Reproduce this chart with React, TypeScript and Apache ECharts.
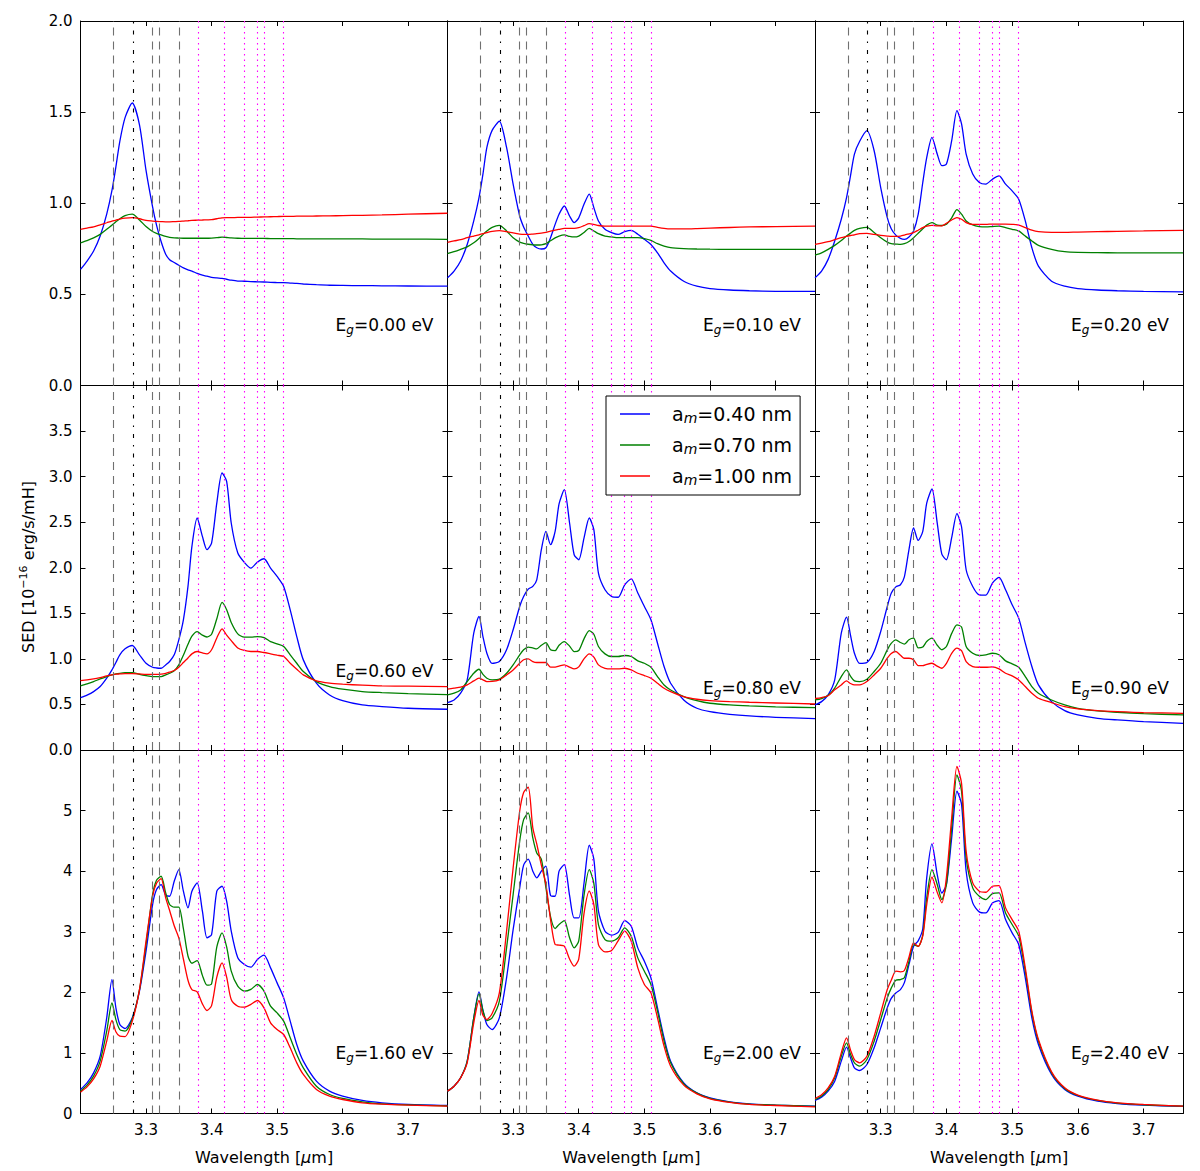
import React, { useEffect, useRef } from "react";
import * as echarts from "echarts";

// wavelength grid (micron)
const WL = [3.20, 3.21, 3.22, 3.23, 3.24, 3.248, 3.254, 3.26, 3.268, 3.279, 3.29, 3.30, 3.31, 3.316, 3.323, 3.33, 3.336, 3.343, 3.35, 3.357, 3.364, 3.37, 3.378, 3.386, 3.393, 3.40, 3.408, 3.416, 3.423, 3.43, 3.44, 3.45, 3.46, 3.47, 3.48, 3.49, 3.50, 3.51, 3.52, 3.53, 3.54, 3.56, 3.58, 3.60, 3.63, 3.66, 3.70, 3.76];

const SIZE_NAMES = ["a_m=0.40 nm", "a_m=0.70 nm", "a_m=1.00 nm"];
const SERIES_COLORS = ["#0000ff", "#008000", "#ff0000"];
const EG_LABELS = ["0.00", "0.10", "0.20", "0.60", "0.80", "0.90", "1.60", "2.00", "2.40"];

// Eg = 0.00 eV
const EG000_040 = [0.637,0.683,0.738,0.82,0.94, 1.07,1.20,1.34,1.47,1.55, 1.43,1.18,0.98,0.88,0.79, 0.72,0.69,0.675,0.66,0.645, 0.635,0.628,0.615,0.605,0.60, 0.593,0.59,0.588,0.583,0.578, 0.573,0.572,0.570,0.569,0.568, 0.566,0.565,0.564,0.562,0.560, 0.557,0.553,0.550,0.549,0.548, 0.547,0.546,0.545];
const EG000_070 = [0.783,0.795,0.810,0.829,0.857, 0.880,0.898,0.915,0.932,0.940, 0.908,0.872,0.845,0.835,0.826, 0.818,0.813,0.810,0.809,0.808, 0.808,0.808,0.808,0.808,0.808, 0.809,0.811,0.814,0.812,0.810, 0.808,0.807,0.807,0.807,0.807, 0.806,0.806,0.806,0.806,0.805, 0.805,0.805,0.805,0.805,0.804, 0.803,0.803,0.802];
const EG000_100 = [0.857,0.864,0.871,0.882,0.893, 0.902,0.907,0.913,0.918,0.921, 0.915,0.906,0.902,0.900,0.899, 0.898,0.898,0.899,0.900,0.902, 0.904,0.906,0.907,0.908,0.909, 0.910,0.915,0.920,0.921,0.921, 0.922,0.922,0.923,0.924,0.925, 0.926,0.927,0.928,0.928,0.929, 0.929,0.930,0.931,0.932,0.934, 0.936,0.940,0.945];
// Eg = 0.10 eV
const EG010_040 = [0.591,0.628,0.683,0.774,0.903, 1.031,1.16,1.306,1.40,1.45, 1.306,1.105,0.930,0.87,0.82, 0.774,0.756,0.749,0.756,0.811, 0.884,0.94,0.985,0.930,0.894, 0.92,0.994,1.050,0.976,0.903, 0.857,0.839,0.829,0.844,0.851, 0.830,0.802,0.774,0.728,0.673, 0.628,0.572,0.545,0.532,0.524, 0.520,0.517,0.516];
const EG010_070 = [0.723,0.734,0.747,0.761,0.783, 0.807,0.828,0.848,0.868,0.879, 0.848,0.811,0.787,0.780,0.775, 0.772,0.771,0.772,0.778,0.794, 0.810,0.820,0.826,0.818,0.815, 0.820,0.840,0.862,0.848,0.833, 0.820,0.815,0.811,0.811,0.811, 0.811,0.806,0.796,0.778,0.765, 0.756,0.751,0.749,0.748,0.747, 0.747,0.747,0.747];
const EG010_100 = [0.785,0.793,0.800,0.811,0.820, 0.827,0.833,0.839,0.846,0.850, 0.844,0.837,0.831,0.829,0.829, 0.831,0.833,0.836,0.840,0.847, 0.853,0.857,0.862,0.862,0.862, 0.866,0.877,0.888,0.884,0.878, 0.875,0.875,0.875,0.875,0.875, 0.875,0.875,0.875,0.868,0.862, 0.859,0.859,0.861,0.864,0.867, 0.870,0.872,0.875];
// Eg = 0.20 eV
const EG020_040 = [0.591,0.628,0.692,0.793,0.912, 1.031,1.15,1.270,1.34,1.398, 1.288,1.086,0.921,0.86,0.825, 0.807,0.802,0.815,0.848,0.939, 1.114,1.25,1.361,1.270,1.206, 1.215,1.343,1.508,1.435,1.270, 1.160,1.114,1.105,1.132,1.150, 1.105,1.068,1.022,0.903,0.756, 0.655,0.572,0.545,0.532,0.524, 0.520,0.517,0.514];
const EG020_070 = [0.716,0.728,0.747,0.769,0.796, 0.820,0.836,0.851,0.862,0.868, 0.840,0.811,0.787,0.778,0.776, 0.774,0.778,0.790,0.811,0.835, 0.860,0.880,0.894,0.880,0.878, 0.885,0.920,0.965,0.940,0.903, 0.881,0.872,0.870,0.872,0.874, 0.866,0.857,0.848,0.820,0.793, 0.769,0.747,0.734,0.730,0.729, 0.728,0.728,0.728];
const EG020_100 = [0.774,0.781,0.789,0.800,0.811, 0.818,0.823,0.827,0.833,0.835, 0.829,0.824,0.820,0.818,0.818, 0.820,0.825,0.832,0.839,0.852, 0.866,0.874,0.879,0.876,0.876, 0.890,0.908,0.921,0.912,0.894, 0.884,0.884,0.884,0.886,0.886, 0.886,0.884,0.880,0.866,0.852, 0.844,0.840,0.840,0.842,0.844, 0.846,0.848,0.851];
// Eg = 0.60 eV
const EG060_040 = [0.575,0.603,0.641,0.696,0.788, 0.879,0.96,1.044,1.11,1.147, 1.044,0.952,0.908,0.90,0.897, 0.934,0.971,1.044,1.209,1.429, 1.795,2.234,2.546,2.344,2.198, 2.271,2.711,3.040,2.949,2.491, 2.161,2.059,1.996,2.062,2.099, 1.996,1.905,1.795,1.538,1.245, 0.989,0.733,0.604,0.542,0.495, 0.476,0.458,0.447];
const EG060_070 = [0.703,0.725,0.751,0.780,0.806, 0.824,0.835,0.842,0.848,0.850, 0.831,0.817,0.806,0.806,0.806, 0.824,0.842,0.87,0.934,1.04, 1.16,1.25,1.300,1.26,1.24, 1.27,1.44,1.62,1.54,1.40, 1.275,1.238,1.238,1.245,1.234, 1.190,1.165,1.136,1.044,0.952, 0.861,0.751,0.696,0.667,0.641, 0.630,0.619,0.608];
const EG060_100 = [0.762,0.769,0.780,0.795,0.813, 0.824,0.832,0.835,0.839,0.839, 0.835,0.831,0.831,0.831,0.833, 0.842,0.855,0.872,0.908,0.96, 1.01,1.055,1.081,1.065,1.055, 1.10,1.23,1.33,1.26,1.20, 1.12,1.092,1.081,1.081,1.070, 1.055,1.040,1.026,0.952,0.886, 0.824,0.758,0.733,0.722,0.711, 0.703,0.700,0.696];
// Eg = 0.80 eV
const EG080_040 = [0.520,0.549,0.623,0.769,1.282, 1.465,1.245,1.062,0.95,0.971, 1.099,1.319,1.575,1.685,1.766, 1.795,1.868,2.198,2.399,2.253, 2.40,2.70,2.857,2.491,2.143, 2.088,2.326,2.546,2.418,1.941, 1.758,1.685,1.676,1.813,1.879, 1.722,1.575,1.429,1.172,0.916, 0.733,0.549,0.458,0.421,0.392, 0.374,0.359,0.344];
const EG080_070 = [0.604,0.623,0.659,0.750,0.842, 0.886,0.83,0.788,0.770,0.777, 0.842,0.934,1.044,1.10,1.13, 1.12,1.110,1.15,1.179,1.10, 1.09,1.15,1.190,1.14,1.08, 1.092,1.22,1.311,1.27,1.136, 1.055,1.026,1.026,1.037,1.026, 0.978,0.952,0.908,0.806,0.714, 0.659,0.586,0.542,0.513,0.495, 0.484,0.473,0.465];
const EG080_100 = [0.667,0.678,0.689,0.714,0.758, 0.788,0.77,0.751,0.752,0.769, 0.824,0.879,0.952,0.99,1.00, 0.97,0.96,0.960,0.960,0.91, 0.91,0.92,0.934,0.91,0.89, 0.912,1.00,1.055,1.02,0.934, 0.897,0.890,0.890,0.897,0.879, 0.842,0.817,0.788,0.733,0.678, 0.641,0.586,0.557,0.542,0.531, 0.524,0.516,0.505];
// Eg = 0.90 eV
const EG090_040 = [0.495,0.531,0.604,0.769,1.282, 1.458,1.26,1.062,0.95,0.960, 1.081,1.300,1.575,1.72,1.79, 1.813,1.90,2.20,2.436,2.30, 2.40,2.71,2.864,2.49,2.15, 2.088,2.33,2.593,2.45,1.978, 1.795,1.703,1.70,1.832,1.894, 1.758,1.593,1.447,1.172,0.916, 0.714,0.531,0.432,0.385,0.348, 0.330,0.311,0.293];
const EG090_070 = [0.55,0.565,0.60,0.68,0.806, 0.879,0.81,0.758,0.751,0.777, 0.861,0.952,1.099,1.17,1.209, 1.18,1.161,1.21,1.227,1.12, 1.13,1.19,1.227,1.15,1.10, 1.136,1.28,1.374,1.35,1.136, 1.062,1.037,1.045,1.062,1.045, 0.978,0.945,0.908,0.806,0.696, 0.623,0.549,0.495,0.458,0.429, 0.414,0.399,0.385];
const EG090_100 = [0.565,0.575,0.595,0.66,0.714, 0.758,0.73,0.714,0.714,0.751, 0.824,0.897,1.007,1.06,1.081, 1.04,1.007,1.007,0.989,0.925, 0.925,0.94,0.952,0.92,0.897, 0.95,1.06,1.117,1.09,0.971, 0.916,0.908,0.908,0.912,0.89, 0.842,0.813,0.769,0.696,0.623, 0.568,0.520,0.476,0.451,0.432, 0.421,0.410,0.403];
// Eg = 1.60 eV
const EG160_040 = [0.396,0.506,0.671,0.946,1.579, 2.211,1.744,1.469,1.403,1.579, 2.019,2.679,3.449,3.696,3.779, 3.603,3.586,3.834,4.026,3.669, 3.394,3.669,3.806,3.339,2.90, 2.954,3.669,3.751,3.504,3.009, 2.569,2.459,2.415,2.541,2.613, 2.404,2.156,1.909,1.524,1.139, 0.864,0.534,0.369,0.286,0.215, 0.176,0.149,0.132];
const EG160_070 = [0.369,0.468,0.616,0.864,1.359, 1.826,1.55,1.386,1.359,1.562, 2.046,2.789,3.614,3.85,3.916, 3.641,3.45,3.405,3.405,3.05, 2.60,2.48,2.525,2.28,2.118, 2.14,2.75,2.981,2.75,2.35, 2.101,2.019,2.05,2.129,2.019, 1.771,1.661,1.524,1.249,0.974, 0.754,0.451,0.314,0.248,0.193, 0.160,0.143,0.127];
const EG160_100 = [0.352,0.440,0.572,0.781,1.194, 1.535,1.35,1.276,1.27,1.524, 2.046,2.844,3.586,3.80,3.878, 3.559,3.35,3.10,2.899,2.55, 2.20,2.046,2.008,1.81,1.700, 1.78,2.25,2.486,2.25,1.881, 1.771,1.755,1.80,1.865,1.744, 1.496,1.386,1.304,1.084,0.836, 0.644,0.396,0.286,0.231,0.176, 0.154,0.138,0.121];
// Eg = 2.00 eV
const EG200_040 = [0.369,0.451,0.589,0.864,1.579, 2.008,1.70,1.469,1.386,1.579, 2.239,3.036,3.724,4.10,4.20, 4.000,3.889,4.00,4.082,3.60, 3.586,4.00,4.109,3.60,3.229, 3.229,3.80,4.428,4.20,3.339, 3.009,2.943,2.990,3.185,3.091, 2.734,2.514,2.239,1.744,1.249, 0.864,0.506,0.341,0.259,0.193, 0.160,0.138,0.121];
const EG200_070 = [0.369,0.451,0.589,0.864,1.579, 1.975,1.70,1.535,1.58,1.854, 2.734,3.614,4.494,4.85,4.962, 4.549,4.30,4.20,3.724,3.25, 3.053,3.12,3.185,2.90,2.734, 2.85,3.60,4.026,3.80,3.119, 2.871,2.844,2.90,3.064,2.926, 2.569,2.349,2.129,1.689,1.194, 0.836,0.490,0.336,0.248,0.187, 0.154,0.138,0.116];
const EG200_100 = [0.369,0.451,0.589,0.836,1.496, 1.865,1.62,1.551,1.65,1.991, 3.009,4.054,4.989,5.30,5.385, 4.714,4.45,4.10,3.779,3.20, 2.789,2.78,2.761,2.55,2.431, 2.55,3.30,3.669,3.45,2.789, 2.668,2.690,2.85,3.009,2.844, 2.404,2.129,1.991,1.579,1.111, 0.781,0.468,0.325,0.243,0.182, 0.149,0.132,0.110];
// Eg = 2.40 eV
const EG240_040 = [0.215,0.270,0.369,0.534,0.864, 1.095,0.92,0.754,0.710,0.809, 1.084,1.414,1.744,1.90,1.99, 2.046,2.16,2.46,2.761,2.85, 3.05,3.889,4.450,3.944,3.64, 3.78,4.55,5.319,5.10,3.999, 3.476,3.328,3.310,3.476,3.515, 3.201,2.981,2.789,2.239,1.579, 1.139,0.644,0.396,0.286,0.204, 0.165,0.138,0.116];
const EG240_070 = [0.231,0.29,0.396,0.589,0.946, 1.166,0.98,0.836,0.781,0.891, 1.194,1.551,1.909,2.07,2.20, 2.211,2.24,2.51,2.789,2.76, 2.95,3.559,4.026,3.78,3.53, 3.78,4.71,5.59,5.32,4.219, 3.724,3.586,3.531,3.630,3.641, 3.311,3.119,2.926,2.349,1.661, 1.194,0.671,0.413,0.297,0.215, 0.170,0.143,0.121];
const EG240_100 = [0.248,0.31,0.424,0.616,1.001, 1.249,1.05,0.891,0.836,0.946, 1.276,1.661,2.046,2.20,2.349, 2.338,2.36,2.58,2.816,2.76, 2.93,3.449,3.900,3.65,3.476, 3.90,4.88,5.73,5.45,4.329, 3.806,3.669,3.652,3.751,3.762, 3.394,3.201,3.009,2.404,1.689, 1.221,0.688,0.424,0.303,0.220, 0.176,0.149,0.121];

const PANELS = [
  [EG000_040, EG000_070, EG000_100],
  [EG010_040, EG010_070, EG010_100],
  [EG020_040, EG020_070, EG020_100],
  [EG060_040, EG060_070, EG060_100],
  [EG080_040, EG080_070, EG080_100],
  [EG090_040, EG090_070, EG090_100],
  [EG160_040, EG160_070, EG160_100],
  [EG200_040, EG200_070, EG200_100],
  [EG240_040, EG240_070, EG240_100],
];

// reference band positions
const GRAY_DASHED = [3.248, 3.311, 3.322, 3.351];
const BLACK_DASHDOT = [3.279];
const MAGENTA_DOTTED = [3.378, 3.419, 3.448, 3.470, 3.4835, 3.510];

const Y_MAX = [2, 4, 6];
const Y_INTERVAL = [0.5, 0.5, 1];
const X_MIN = 3.2;
const X_MAX = 3.76;

const FONT = "DejaVu Sans";

export default function App() {
  const ref = useRef<HTMLDivElement>(null);

  useEffect(() => {
    if (!ref.current) return;
    const chart = echarts.init(ref.current, undefined, { renderer: "svg" });

    const colLeft = [80.5, 447.5, 815];
    const colWidth = [367, 367.5, 368];
    const rowTop = [21, 385.5, 750];
    const rowHeight = [364.5, 364.5, 363.5];
    const annotY = [[325, 325, 325], [671, 688, 688], [1053, 1053, 1053]];

    const grids: any[] = [];
    const xAxes: any[] = [];
    const yAxes: any[] = [];
    const series: any[] = [];
    const graphics: any[] = [];

    const axisLine = { show: true, onZero: false, lineStyle: { color: "#000", width: 1 } };
    const axisTick = { show: true, inside: true, length: 5, lineStyle: { color: "#000", width: 1 } };

    for (let r = 0; r < 3; r++) {
      for (let c = 0; c < 3; c++) {
        const i = r * 3 + c;
        grids.push({ left: colLeft[c], top: rowTop[r], width: colWidth[c], height: rowHeight[r], show: false });
        xAxes.push({
          type: "value", gridIndex: i, min: X_MIN, max: X_MAX, interval: 0.1, position: "bottom",
          axisLine, axisTick, splitLine: { show: false },
          axisLabel: {
            show: r === 2, margin: 9, fontSize: 15, color: "#000", fontFamily: FONT,
            showMinLabel: false, showMaxLabel: false,
            formatter: (v: number) => v.toFixed(1),
          },
          name: r === 2 ? "Wavelength [{it|μ}m]" : "",
          nameLocation: "middle", nameGap: 36,
          nameTextStyle: { fontSize: 16, color: "#000", fontFamily: FONT, rich: { it: { fontSize: 16, fontStyle: "italic", fontFamily: FONT, color: "#000" } } },
        });
        xAxes.push({
          type: "value", gridIndex: i, min: X_MIN, max: X_MAX, interval: 0.1, position: "top",
          axisLine, axisTick, splitLine: { show: false }, axisLabel: { show: false },
        });
        yAxes.push({
          type: "value", gridIndex: i, min: 0, max: Y_MAX[r], interval: Y_INTERVAL[r], position: "left",
          axisLine, axisTick, splitLine: { show: false },
          axisLabel: {
            show: c === 0, margin: 8, fontSize: 15, color: "#000", fontFamily: FONT,
            showMaxLabel: r === 0,
            formatter: (v: number) => (r < 2 ? v.toFixed(1) : String(Math.round(v))),
          },
        });
        yAxes.push({
          type: "value", gridIndex: i, min: 0, max: Y_MAX[r], interval: Y_INTERVAL[r], position: "right",
          axisLine, axisTick, splitLine: { show: false }, axisLabel: { show: false },
        });

        PANELS[i].forEach((vals, k) => {
          const s: any = {
            type: "line", name: SIZE_NAMES[k], xAxisIndex: 2 * i, yAxisIndex: 2 * i,
            data: WL.map((w, j) => [w, vals[j]]),
            showSymbol: false, symbol: "none", smooth: 0.25,
            lineStyle: { color: SERIES_COLORS[k], width: 1.3 },
            itemStyle: { color: SERIES_COLORS[k] },
            z: 3,
          };
          if (k === 0) {
            s.markLine = {
              silent: true, symbol: ["none", "none"], label: { show: false }, animation: false,
              data: [
                ...GRAY_DASHED.map((x) => ({ xAxis: x, lineStyle: { color: "#707070", type: [8, 6], width: 1.1 } })),
                ...BLACK_DASHDOT.map((x) => ({ xAxis: x, lineStyle: { color: "#000", type: [4, 7, 1.5, 7], width: 1.1 } })),
                ...MAGENTA_DOTTED.map((x) => ({ xAxis: x, lineStyle: { color: "#ff00ff", type: [1.5, 4], width: 1.1 } })),
              ],
            };
          }
          series.push(s);
        });

        graphics.push({
          type: "text",
          x: colLeft[c] + colWidth[c] - 14,
          y: annotY[r][c],
          z: 20,
          style: {
            text: "E{sub|g}=" + EG_LABELS[i] + " eV",
            align: "right", verticalAlign: "middle",
            fontSize: 17, fontFamily: FONT, fill: "#000", lineHeight: 21,
            rich: { sub: { fontSize: 12, fontStyle: "italic", fontFamily: FONT, fill: "#000", lineHeight: 12, verticalAlign: "bottom" } },
          },
        });
      }
    }

    graphics.push({
      type: "text",
      x: 28, y: 567, rotation: Math.PI / 2, z: 20,
      style: {
        text: "SED [10{sup|−16} erg/s/mH]",
        align: "center", verticalAlign: "middle",
        fontSize: 16, fontFamily: FONT, fill: "#000", lineHeight: 20,
        rich: { sup: { fontSize: 11, fontFamily: FONT, fill: "#000", lineHeight: 11, verticalAlign: "top" } },
      },
    });

    chart.setOption({
      animation: false,
      backgroundColor: "#fff",
      textStyle: { fontFamily: FONT },
      grid: grids,
      xAxis: xAxes,
      yAxis: yAxes,
      series,
      graphic: graphics,
      legend: {
        data: SIZE_NAMES.map((n, k) => ({ name: n, icon: "rect", itemStyle: { color: SERIES_COLORS[k] } })),
        left: 606, top: 396, orient: "vertical", z: 10,
        backgroundColor: "#fff", borderColor: "#000", borderWidth: 1, borderRadius: 0,
        padding: [7, 8, 8, 14],
        itemWidth: 30, itemHeight: 1.5, itemGap: 9,
        selectedMode: false,
        formatter: (n: string) => n.replace("a_m", "a{sub|m}"),
        textStyle: {
          fontSize: 19, fontFamily: FONT, color: "#000", lineHeight: 22, padding: [0, 0, 0, 17],
          rich: { sub: { fontSize: 14, fontStyle: "italic", fontFamily: FONT, color: "#000", lineHeight: 14, verticalAlign: "bottom" } },
        },
      },
    });

    return () => chart.dispose();
  }, []);

  return <div ref={ref} style={{ position: "absolute", left: 0, top: 0, width: 1200, height: 1171, background: "#fff" }} />;
}
